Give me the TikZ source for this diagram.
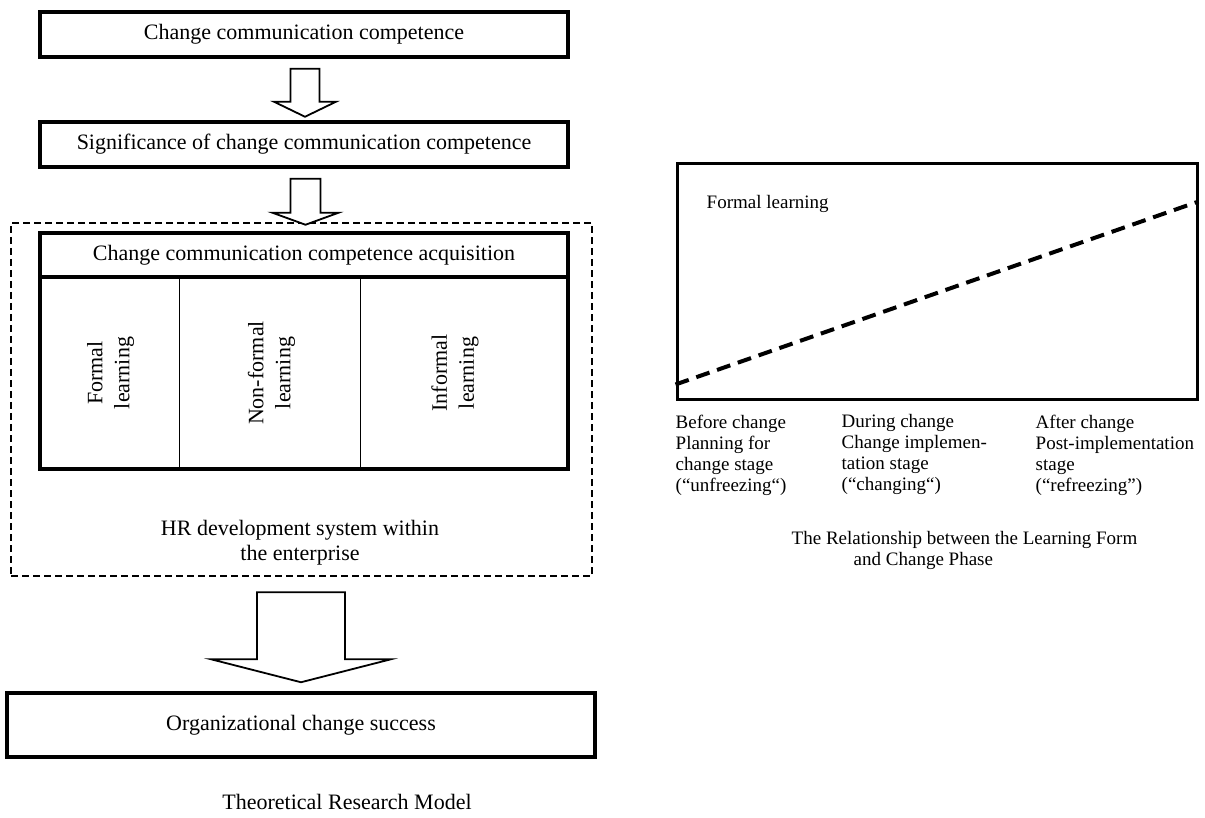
\documentclass[tikz,border=0pt]{standalone}
\usepackage{fontspec}
\setmainfont{Liberation Serif}
\usepackage{tikz}
\usetikzlibrary{
  calc,
  positioning
}
\newcommand{\modelfont}{\fontsize{22}{27}\selectfont}
\newcommand{\phasefont}{\fontsize{19}{21}\selectfont}
\tikzset{
  stagebox/.style={draw, line width=3.5pt,
    minimum width=528pt, minimum height=45pt,
    align=center, font=\modelfont},
  blockarr/.style={draw, line width=1.8pt, fill=white, line join=miter},
  hrframe/.style={draw, line width=2pt, dash pattern=on 7pt off 4pt},
  divider/.style={line width=1.3pt},
  phasetext/.style={align=left, font=\phasefont, inner sep=0pt, anchor=north west},
}

\begin{document}
\begin{tikzpicture}[x=1pt, y=-1pt,
  chartbox/.style={draw, line width=3pt,
    minimum width=520pt, minimum height=235pt}
]
  \fill[white] (0,0) rectangle (1205,818);
  \useasboundingbox (0,0) rectangle (1205,818);

  % left: theoretical research model
  \node[stagebox] (comp) at (304,34.5) {Change communication competence};
  \node[stagebox] (signif) at (304,144.5) {Significance of change communication competence};

  \node[hrframe, minimum width=581pt, minimum height=353pt] (hrsys) at (301.5,399.5) {};

  \draw[blockarr] ($(comp.south)+(-13.5,10)$) -- ++(29,0) -- ++(0,33) -- ++(16.5,0)
    -- ++(-31,15) -- ++(-31,-15) -- ++(16.5,0) -- cycle;
  \draw[blockarr] ($(signif.south)+(-13.5,10)$) -- ++(30,0) -- ++(0,34) -- ++(18,0)
    -- ++(-33,12) -- ++(-33,-12) -- ++(18,0) -- cycle;

  % acquisition table
  \node[draw, line width=3.5pt, minimum width=528pt, minimum height=236pt] (acq) at (304,351) {};
  \node[stagebox, minimum height=44pt] (acqhead) at (304,255) {Change communication competence acquisition};
  \draw[divider] ($(acqhead.south west)+(141,0)$) -- ($(acq.south west)+(141,0)$);
  \draw[divider] ($(acqhead.south west)+(322,0)$) -- ($(acq.south west)+(322,0)$);

  \node[rotate=90, align=center, font=\modelfont] (formal) at (110.5,373) {Formal\\learning};
  \node[rotate=90, align=center, font=\modelfont] (nonformal) at (271.5,373) {Non-formal\\learning};
  \node[rotate=90, align=center, font=\modelfont] (informal) at (455,373) {Informal\\learning};

  \node[align=center, font=\fontsize{22}{25}\selectfont] (hrlabel) at (300,543)
    {HR development system within\\the enterprise};

  % outcome
  \node[stagebox, minimum width=588pt, minimum height=64pt] (success) at (301,725) {Organizational change success};
  \draw[blockarr] ($(success.north)+(-44,-99)$) -- ++(88,0) -- ++(0,67) -- ++(46,0)
    -- ++(-90,23) -- ++(-90,-23) -- ++(46,0) -- cycle;

  \node[font=\modelfont] (modelcap) at ($(success.south)+(46,43)$) {Theoretical Research Model};

  % right: learning form vs change phase
  \node[chartbox] (chart) at (937,281.5) {};
  \coordinate (fstart) at ($(chart.south west)+(0,-16)$);
  \coordinate (fend) at ($(chart.north east)+(0,39)$);
  \draw[line width=4pt, dash pattern=on 14pt off 8pt] (fstart) -- (fend);
  \node[font=\phasefont, anchor=west, inner sep=0pt] (flabel) at ($(chart.north west)+(31,41)$) {Formal learning};

  \node[phasetext] (before) at ($(chart.south west)+(0,14)$)
    {Before change\\Planning for\\change stage\\(“unfreezing“)};
  \node[phasetext] (during) at ($(chart.south west)+(166,14)$)
    {During change\\Change implemen-\\tation stage\\(“changing“)};
  \node[phasetext] (after) at ($(chart.south west)+(360,14)$)
    {After change\\Post-implementation\\stage\\(“refreezing”)};

  \node[phasetext] (phasecap) at ($(chart.south west)+(116,131)$)
    {The Relationship between the Learning Form\\\hspace*{62pt}and Change Phase};
\end{tikzpicture}
\end{document}
